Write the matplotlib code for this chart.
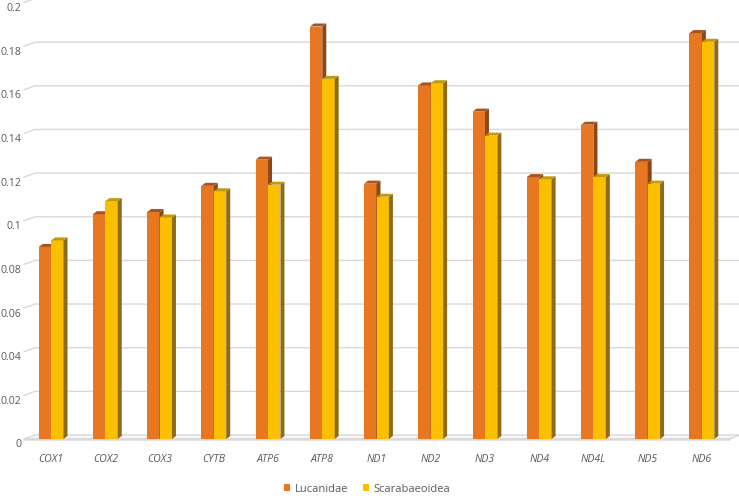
import numpy as np
import matplotlib
matplotlib.use('Agg')
import matplotlib.pyplot as plt
from matplotlib.patches import Polygon, Patch

genes = ['COX1', 'COX2', 'COX3', 'CYTB', 'ATP6', 'ATP8', 'ND1', 'ND2', 'ND3', 'ND4', 'ND4L', 'ND5', 'ND6']
lucanidae = [0.088, 0.103, 0.104, 0.116, 0.128, 0.189, 0.117, 0.162, 0.150, 0.120, 0.144, 0.127, 0.186]
scarabaeoidea = [0.091, 0.109, 0.1015, 0.1135, 0.1165, 0.165, 0.111, 0.163, 0.139, 0.119, 0.120, 0.117, 0.182]
yticks = [0, 0.02, 0.04, 0.06, 0.08, 0.1, 0.12, 0.14, 0.16, 0.18, 0.2]
series_names = ['Lucanidae', 'Scarabaeoidea']

plt.rcParams['font.family'] = ['Open Sans', 'DejaVu Sans']

W, H = 739, 502
fig = plt.figure(figsize=(W / 100, H / 100), dpi=100)
left_px, right_px, bot_px, top_px = 24, 729, 440, 3.5
ax = fig.add_axes([left_px / W, 1 - bot_px / H, (right_px - left_px) / W, (bot_px - top_px) / H])
n = len(genes)
ax.set_xlim(-0.5, n - 0.5)
ax.set_ylim(0, 0.2)
ax.axis('off')

# pixel -> data conversion
px_x = n / (right_px - left_px)
px_y = 0.2 / (bot_px - top_px)

grid_col = '#D9D9D9'
txt_col = '#595959'

# floor
fdx, fdy = 11 * px_x, 4 * px_y
floor = Polygon([(-0.5, 0), (n - 0.5, 0), (n - 0.5 + fdx, fdy), (-0.5 + fdx, fdy)],
                closed=True, facecolor='#F7F7F7', edgecolor=grid_col, lw=1.0, clip_on=False, zorder=1)
ax.add_patch(floor)
ax.plot([-0.5, n - 0.5], [0, 0], color=grid_col, lw=1.8, clip_on=False, zorder=1.1)

# back wall gridlines
x_far = -0.5 + (W - left_px) * px_x
for v in yticks[1:]:
    ax.plot([-0.5, -0.5 + fdx, x_far], [v, v + fdy, v + fdy], color=grid_col, lw=1.0,
            clip_on=False, zorder=0.5)
for v in yticks:
    ax.text(-0.5 - 2.5 * px_x, v - 5 * px_y, f'{v:g}', ha='right', va='center',
            fontsize=7.6, color=txt_col)

# 3D bars
bw = 12.4 * px_x
sdx, sdy = 4 * px_x, 3 * px_y
styles = [
    dict(front='#E87722', side='#8C4716', top='#A9531C'),
    dict(front='#FAC000', side='#8E6B1A', top='#C19A10'),
]
x = np.arange(n)
for i in range(n):
    for s, vals in enumerate([lucanidae, scarabaeoidea]):
        st = styles[s]
        x0 = x[i] - bw + s * bw
        x1 = x0 + bw
        h = vals[i]
        z = 2 + s
        ax.add_patch(Polygon([(x0, 0), (x1, 0), (x1, h), (x0, h)], closed=True,
                             facecolor=st['front'], edgecolor='none', zorder=z))
        ax.add_patch(Polygon([(x1, 0), (x1 + sdx, sdy), (x1 + sdx, h + sdy), (x1, h)], closed=True,
                             facecolor=st['side'], edgecolor='none', zorder=z))
        ax.add_patch(Polygon([(x0, h), (x1, h), (x1 + sdx, h + sdy), (x0 + sdx, h + sdy)], closed=True,
                             facecolor=st['top'], edgecolor='none', zorder=z))

for i, g in enumerate(genes):
    ax.text(x[i], -20 * px_y, g, ha='center', va='center', fontsize=7.6,
            style='italic', color=txt_col)

handles = [Patch(facecolor=styles[0]['front'], edgecolor='none'),
           Patch(facecolor=styles[1]['front'], edgecolor='none')]
fig.legend(handles, series_names, loc='center', bbox_to_anchor=(367 / W, 1 - 490 / H), ncol=2,
           frameon=False, fontsize=8, labelcolor=txt_col, handlelength=0.6, handleheight=0.6,
           handletextpad=0.4, columnspacing=1.3)

fig.savefig('out.png', dpi=100)
